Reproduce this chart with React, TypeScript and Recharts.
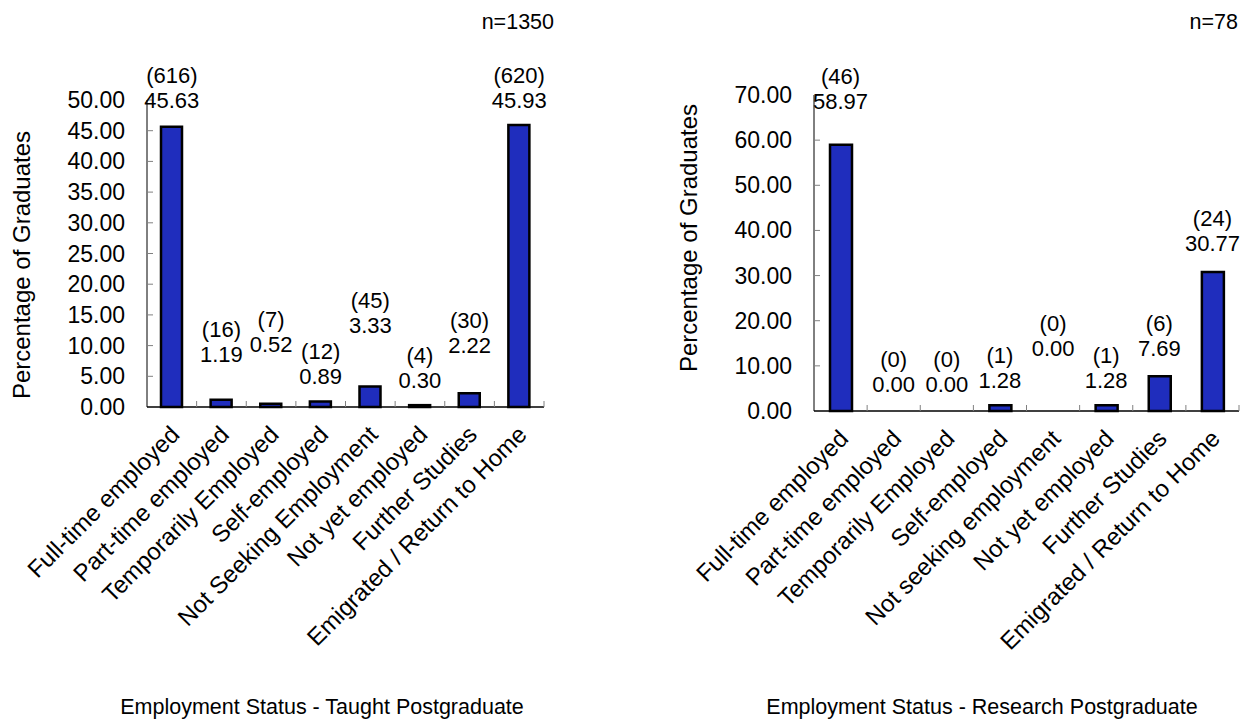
import React from 'react';
import { ComposedChart, Bar, Line, XAxis, YAxis, LabelList } from 'recharts';

const FONT = '"Liberation Sans", Arial, sans-serif';
const BLUE = '#1f2dbd';

// Taught postgraduate
const taughtCategories = [
  'Full-time employed',
  'Part-time employed',
  'Temporarily Employed',
  'Self-employed',
  'Not Seeking Employment',
  'Not yet employed',
  'Further Studies',
  'Emigrated / Return to Home',
];
const taughtPercent = [45.63, 1.19, 0.52, 0.89, 3.33, 0.3, 2.22, 45.93];
const taughtCount = [616, 16, 7, 12, 45, 4, 30, 620];
const taughtTicks = [0, 5, 10, 15, 20, 25, 30, 35, 40, 45, 50];

// Research postgraduate
const researchCategories = [
  'Full-time employed',
  'Part-time employed',
  'Temporarily Employed',
  'Self-employed',
  'Not seeking employment',
  'Not yet employed',
  'Further Studies',
  'Emigrated / Return to Home',
];
const researchPercent = [58.97, 0, 0, 1.28, 0, 1.28, 7.69, 30.77];
const researchCount = [46, 0, 0, 1, 0, 1, 6, 24];
const researchTicks = [0, 10, 20, 30, 40, 50, 60, 70];

// how far above the bar top each value label sits (px), hand-placed to avoid overlaps
const taughtLabelRise = [26, 45, 59, 25, 61, 25, 48, 24];
const researchLabelRise = [43, 27, 27, 25, 63, 25, 28, 29];

type PanelProps = {
  categories: string[];
  percent: number[];
  counts: number[];
  ticks: number[];
  rise: number[];
  left: number;
  plotLeft: number;
  plotRight: number;
  plotTop: number;
  plotBottom: number;
  barSize: number;
};

const tickText = { fontFamily: FONT, fontSize: 23, fill: '#000' };
const catText = { fontFamily: FONT, fontSize: 24, fill: '#000' };
const labelText = { fontFamily: FONT, fontSize: 22, fill: '#000' };

const Panel = (p: PanelProps) => {
  const W = 621;
  const H = 722;
  const yAxisWidth = 100;
  const step = (p.plotRight - p.plotLeft) / p.categories.length;
  const data = p.categories.map((name, i) => ({ name, pct: p.percent[i] }));

  const renderXTick = (props: any) => {
    const { x, y, payload } = props;
    const tx = x + 3;
    const ty = y + 23;
    return (
      <g>
        <line x1={x + step / 2} x2={x + step / 2} y1={y} y2={y - 6} stroke="#808080" />
        <text
          x={tx}
          y={ty}
          transform={`rotate(-45 ${tx} ${ty})`}
          textAnchor="end"
          dominantBaseline="central"
          style={catText}
        >
          {payload.value}
        </text>
      </g>
    );
  };

  const renderYTick = (props: any) => {
    const { x, y, payload } = props;
    const axisX = x + 22;
    return (
      <g>
        {payload.value !== 0 && (
          <line x1={axisX} x2={axisX + 6} y1={y} y2={y} stroke="#808080" />
        )}
        <text x={x} y={y} textAnchor="end" dominantBaseline="central" style={tickText}>
          {Number(payload.value).toFixed(2)}
        </text>
      </g>
    );
  };

  // two-line label: (count) over percentage
  const renderLabel = (props: any) => {
    const { x, y, index, value } = props;
    const vy = Number(y) - p.rise[index];
    return (
      <g>
        <text x={x} y={vy - 25} textAnchor="middle" dominantBaseline="central" style={labelText}>
          ({p.counts[index]})
        </text>
        <text x={x} y={vy} textAnchor="middle" dominantBaseline="central" style={labelText}>
          {Number(value).toFixed(2)}
        </text>
      </g>
    );
  };

  return (
    <div style={{ position: 'absolute', left: p.left, top: 0, width: W, height: H }}>
      <ComposedChart
        width={W}
        height={H}
        data={data}
        margin={{
          top: p.plotTop,
          right: W - p.plotRight,
          bottom: 0,
          left: p.plotLeft - yAxisWidth,
        }}
        barSize={p.barSize}
      >
        <XAxis
          dataKey="name"
          height={H - p.plotBottom}
          axisLine={{ stroke: '#000', strokeWidth: 1.5 }}
          tickLine={false}
          tickSize={0}
          tickMargin={0}
          interval={0}
          tick={renderXTick}
        />
        <YAxis
          width={yAxisWidth}
          domain={[p.ticks[0], p.ticks[p.ticks.length - 1]]}
          ticks={p.ticks}
          interval={0}
          axisLine={{ stroke: '#000', strokeWidth: 1 }}
          tickLine={false}
          tickSize={0}
          tickMargin={22}
          tick={renderYTick}
        />
        <Bar dataKey="pct" fill={BLUE} stroke="#000" strokeWidth={2.5} isAnimationActive={false} />
        {/* invisible series that carries the labels, so zero bars get theirs too */}
        <Line
          dataKey="pct"
          stroke="none"
          dot={false}
          activeDot={false}
          isAnimationActive={false}
        >
          <LabelList dataKey="pct" content={renderLabel} />
        </Line>
      </ComposedChart>
    </div>
  );
};

const abs = (style: React.CSSProperties): React.CSSProperties => ({
  position: 'absolute',
  fontFamily: FONT,
  fontSize: 21.5,
  color: '#000',
  whiteSpace: 'nowrap',
  lineHeight: 1,
  ...style,
});

export default function App() {
  return (
    <div style={{ position: 'absolute', left: 0, top: 0, width: 1242, height: 722, background: '#fff' }}>
      <Panel
        categories={taughtCategories}
        percent={taughtPercent}
        counts={taughtCount}
        ticks={taughtTicks}
        rise={taughtLabelRise}
        left={0}
        plotLeft={147}
        plotRight={544}
        plotTop={100}
        plotBottom={407}
        barSize={21}
      />
      <Panel
        categories={researchCategories}
        percent={researchPercent}
        counts={researchCount}
        ticks={researchTicks}
        rise={researchLabelRise}
        left={621}
        plotLeft={193}
        plotRight={618}
        plotTop={95}
        plotBottom={411}
        barSize={22}
      />

      <div style={abs({ right: 1242 - 554, top: 12 })}>n=1350</div>
      <div style={abs({ right: 4, top: 12 })}>n=78</div>

      <div style={abs({ fontSize: 24, left: 22, top: 265, transform: 'translate(-50%, -50%) rotate(-90deg)' })}>
        Percentage of Graduates
      </div>
      <div style={abs({ fontSize: 24, left: 689, top: 238, transform: 'translate(-50%, -50%) rotate(-90deg)' })}>
        Percentage of Graduates
      </div>

      <div style={abs({ left: 322, top: 708, transform: 'translate(-50%, -50%)' })}>
        Employment Status - Taught Postgraduate
      </div>
      <div style={abs({ left: 982, top: 708, transform: 'translate(-50%, -50%)' })}>
        Employment Status - Research Postgraduate
      </div>
    </div>
  );
}
